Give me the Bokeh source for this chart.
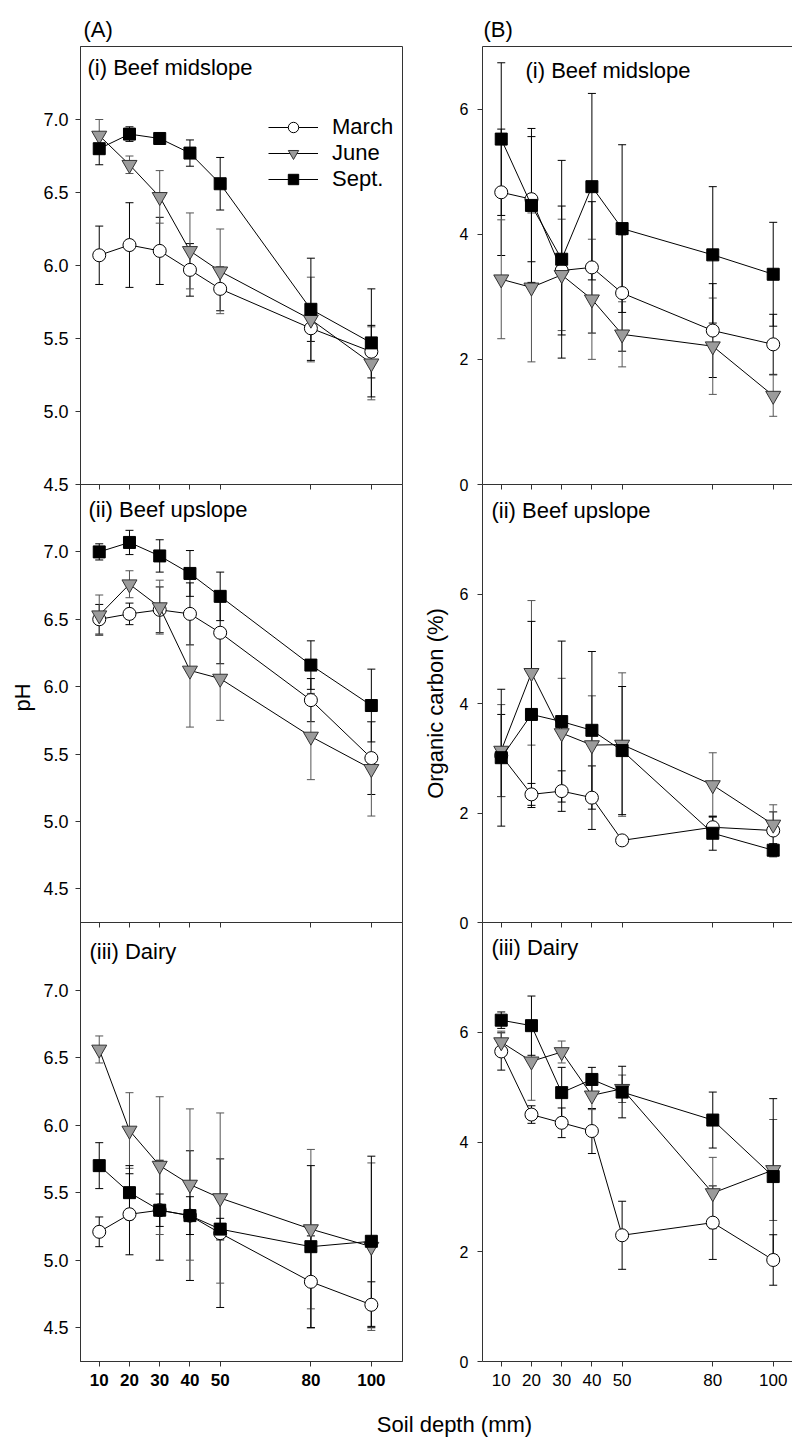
import math
from bokeh.plotting import figure
from bokeh.models import (ColumnDataSource, Whisker, TeeHead, FixedTicker, PrintfTickFormatter,
                          LinearAxis, Label, Legend, LegendItem, Range1d)
from bokeh.layouts import column, row
from bokeh.embed import file_html
from bokeh.resources import INLINE

FONT = "Liberation Sans"

# ---------------- data ----------------
depth = [10, 20, 30, 40, 50, 80, 100]
depth_ticks = [10, 20, 30, 40, 50, 80, 100]
months = ["March", "June", "Sept."]
site_titles = ["(i) Beef midslope", "(ii) Beef upslope", "(iii) Dairy"]
column_headers = ["(A)", "(B)"]
ph_ticks = [4.5, 5.0, 5.5, 6.0, 6.5, 7.0]
oc_ticks = [0, 2, 4, 6]
y_title_ph = "pH"
y_title_oc = "Organic carbon (%)"
x_title = "Soil depth (mm)"

# pH, beef midslope
ph_mid_march = [6.07, 6.14, 6.10, 5.97, 5.84, 5.57, 5.41]
ph_mid_march_err = [0.20, 0.29, 0.23, 0.18, 0.15, 0.09, 0.18]
ph_mid_june = [6.89, 6.69, 6.47, 6.10, 5.96, 5.63, 5.33]
ph_mid_june_err = [0.11, 0.06, 0.18, 0.26, 0.29, 0.29, 0.25]
ph_mid_sept = [6.80, 6.90, 6.87, 6.77, 6.56, 5.70, 5.47]
ph_mid_sept_err = [0.11, 0.05, 0.02, 0.09, 0.18, 0.35, 0.37]

# pH, beef upslope
ph_up_march = [6.50, 6.54, 6.57, 6.54, 6.40, 5.90, 5.47]
ph_up_march_err = [0.11, 0.08, 0.17, 0.23, 0.23, 0.16, 0.27]
ph_up_june = [6.53, 6.76, 6.59, 6.12, 6.06, 5.63, 5.39]
ph_up_june_err = [0.15, 0.10, 0.20, 0.42, 0.31, 0.32, 0.35]
ph_up_sept = [7.00, 7.07, 6.97, 6.84, 6.67, 6.16, 5.86]
ph_up_sept_err = [0.06, 0.09, 0.12, 0.17, 0.18, 0.18, 0.27]

# pH, dairy
ph_dairy_march = [5.21, 5.34, 5.37, 5.33, 5.20, 4.84, 4.67]
ph_dairy_march_err = [0.11, 0.30, 0.37, 0.48, 0.55, 0.34, 0.17]
ph_dairy_june = [6.56, 5.96, 5.70, 5.56, 5.46, 5.23, 5.10]
ph_dairy_june_err = [0.10, 0.28, 0.51, 0.56, 0.63, 0.59, 0.62]
ph_dairy_sept = [5.70, 5.50, 5.37, 5.33, 5.23, 5.10, 5.14]
ph_dairy_sept_err = [0.17, 0.20, 0.12, 0.14, 0.08, 0.60, 0.63]

# Organic carbon, beef midslope
oc_mid_march = [4.67, 4.56, 3.42, 3.47, 3.06, 2.46, 2.24]
oc_mid_march_err = [1.01, 1.00, 1.03, 1.05, 0.93, 0.75, 0.48]
oc_mid_june = [3.28, 3.15, 3.35, 2.96, 2.40, 2.21, 1.42]
oc_mid_june_err = [0.95, 1.19, 0.89, 0.96, 0.52, 0.77, 0.33]
oc_mid_sept = [5.52, 4.46, 3.60, 4.76, 4.09, 3.67, 3.36]
oc_mid_sept_err = [1.22, 1.23, 1.58, 1.49, 1.34, 1.09, 0.83]

# Organic carbon, beef upslope
oc_up_march = [3.05, 2.34, 2.40, 2.28, 1.50, 1.74, 1.68]
oc_up_march_err = [0.75, 0.20, 0.37, 0.58, 0.08, 0.20, 0.34]
oc_up_june = [3.14, 4.56, 3.46, 3.24, 3.25, 2.51, 1.79]
oc_up_june_err = [0.84, 1.32, 1.00, 0.90, 1.31, 0.59, 0.36]
oc_up_sept = [3.01, 3.80, 3.67, 3.51, 3.14, 1.63, 1.32]
oc_up_sept_err = [1.25, 1.70, 1.47, 1.44, 1.17, 0.31, 0.12]

# Organic carbon, dairy
oc_dairy_march = [5.65, 4.50, 4.35, 4.20, 2.30, 2.53, 1.85]
oc_dairy_march_err = [0.34, 0.16, 0.27, 0.41, 0.62, 0.67, 0.46]
oc_dairy_june = [5.82, 5.47, 5.64, 4.85, 4.97, 3.07, 3.49]
oc_dairy_june_err = [0.20, 0.71, 0.20, 0.26, 0.25, 0.65, 0.92]
oc_dairy_sept = [6.22, 6.12, 4.90, 5.14, 4.91, 4.40, 3.37]
oc_dairy_sept_err = [0.15, 0.54, 0.46, 0.22, 0.47, 0.51, 1.42]

# ---------------- styles ----------------
STYLES = {
    "March": dict(marker="circle", size=13, fill="white", line="black", ecolor="black"),
    "June": dict(marker="inverted_triangle", size=15, fill="#9b9b9b", line="#333333", ecolor="#555555"),
    "Sept.": dict(marker="square", size=12, fill="black", line="black", ecolor="black"),
}
AX = "#333333"
X_START = 3.8
LEFT_W = 365      # left-column figure width (frame 322 + borders)
RIGHT_W = 389
LABEL_W = 30      # narrow strip holding the pH title
TOP_B = 46
ROOT_TOP = 0
COL_H = (TOP_B + 438 + 12) + 438 + 463


def add_series(p, vals, errs, st):
    src = ColumnDataSource(dict(
        x=depth, y=vals,
        upper=[v + e for v, e in zip(vals, errs)],
        lower=[v - e for v, e in zip(vals, errs)]))
    w = Whisker(source=src, base="x", upper="upper", lower="lower",
                line_color=st["ecolor"], line_width=1,
                upper_head=TeeHead(size=8, line_color=st["ecolor"], line_width=1),
                lower_head=TeeHead(size=8, line_color=st["ecolor"], line_width=1))
    p.add_layout(w)
    ln = p.line("x", "y", source=src, line_color="black", line_width=1)
    sc = p.scatter("x", "y", source=src, marker=st["marker"], size=st["size"],
                   fill_color=st["fill"], line_color=st["line"], line_width=1)
    return ln, sc


def make_panel(col, rowi, y_start, y_end, yticks, yfmt, series, title, tdx, tdy,
               header=None, ylabel=None, legend=False):
    left = col == 0
    w = LEFT_W if left else RIGHT_W
    mbl = 42 if left else 79
    mbr = 1 if left else 0
    top_b = TOP_B if rowi == 0 else 0
    bot_b = 36 if rowi == 2 else 12
    frame_h = 438 if rowi < 2 else 439
    h = top_b + frame_h + bot_b
    x_end = 110.3 if left else X_START + 310 / 3.022
    kw = {}
    if rowi > 0:
        kw["margin"] = (-12, 0, 0, 0)
    p = figure(width=w, height=h, x_range=Range1d(X_START, x_end), y_range=Range1d(y_start, y_end),
               output_backend="svg", toolbar_location=None,
               min_border_left=mbl, min_border_right=mbr, min_border_top=top_b, min_border_bottom=bot_b,
               border_fill_color=None, background_fill_color=None,
               outline_line_color=AX if left else None, **kw)
    p.xgrid.visible = False
    p.ygrid.visible = False

    if header:
        p.title.text = header
        p.title.align = "left"
        p.title.offset = 3 if left else 1
        p.title.text_font = FONT
        p.title.text_font_size = "22px"
        p.title.text_font_style = "normal"
        p.title.text_color = "black"
        p.title.standoff = 10

    # y axis
    p.yaxis.ticker = FixedTicker(ticks=yticks)
    p.yaxis.formatter = PrintfTickFormatter(format=yfmt)
    p.yaxis.major_tick_out = 5
    p.yaxis.major_tick_in = 0
    p.yaxis.minor_tick_out = 0
    p.yaxis.minor_tick_in = 0
    p.yaxis.axis_line_color = AX
    p.yaxis.major_tick_line_color = AX
    p.yaxis.major_label_text_font = FONT
    p.yaxis.major_label_text_font_size = "18px" if left else "16px"
    p.yaxis.major_label_text_color = "black"
    p.yaxis.major_label_standoff = 7 if left else 9
    if ylabel:
        p.yaxis.axis_label = ylabel
        p.yaxis.axis_label_text_font = FONT
        p.yaxis.axis_label_text_font_size = "22px"
        p.yaxis.axis_label_text_font_style = "normal"
        p.yaxis.axis_label_text_color = "black"
        p.yaxis.axis_label_standoff = 9

    # bottom x axis
    if rowi == 2:
        p.xaxis.ticker = FixedTicker(ticks=depth_ticks)
        p.xaxis.major_tick_out = 5
        p.xaxis.major_tick_in = 0
        p.xaxis.minor_tick_out = 0
        p.xaxis.minor_tick_in = 0
        p.xaxis.axis_line_color = AX
        p.xaxis.major_tick_line_color = AX
        p.xaxis.major_label_text_font = FONT
        p.xaxis.major_label_text_font_size = "17px"
        p.xaxis.major_label_text_font_style = "bold" if left else "normal"
        p.xaxis.major_label_text_color = "black"
        p.xaxis.major_label_standoff = 7
    else:
        p.xaxis.visible = False

    # top axis: tick marks pointing into the panel (shared boundary)
    if rowi > 0 or not left:
        ax = LinearAxis(ticker=FixedTicker(ticks=depth_ticks),
                        major_tick_in=5 if rowi > 0 else 0, major_tick_out=0,
                        minor_tick_in=0, minor_tick_out=0,
                        major_tick_line_color=AX,
                        major_label_text_color=None, major_label_text_font_size="0px",
                        major_label_standoff=0,
                        axis_line_color=None if left else AX)
        p.add_layout(ax, "above")

    items = []
    for name, (vals, errs) in zip(months, series):
        ln, sc = add_series(p, vals, errs, STYLES[name])
        items.append(LegendItem(label=name, renderers=[ln, sc]))

    if legend:
        lg = Legend(items=items, location=(188, 292), orientation="vertical",
                    glyph_width=50, glyph_height=26, label_height=26, spacing=0,
                    label_standoff=14, padding=0, margin=0,
                    border_line_color=None, background_fill_alpha=0,
                    label_text_font=FONT, label_text_font_size="22px", label_text_color="black")
        p.add_layout(lg)

    p.add_layout(Label(x=X_START, y=y_end, x_offset=tdx, y_offset=-tdy, text=title,
                       text_font=FONT, text_font_size="22px", text_color="black",
                       text_baseline="alphabetic", text_align="left"))
    return p


A1 = make_panel(0, 0, 4.5, 7.5, ph_ticks, "%.1f",
                [(ph_mid_march, ph_mid_march_err), (ph_mid_june, ph_mid_june_err), (ph_mid_sept, ph_mid_sept_err)],
                site_titles[0], 7, 21, header=column_headers[0], legend=True)
A2 = make_panel(0, 1, 4.25, 7.5, ph_ticks, "%.1f",
                [(ph_up_march, ph_up_march_err), (ph_up_june, ph_up_june_err), (ph_up_sept, ph_up_sept_err)],
                site_titles[1], 8, 25)
A3 = make_panel(0, 2, 4.25, 7.5, ph_ticks, "%.1f",
                [(ph_dairy_march, ph_dairy_march_err), (ph_dairy_june, ph_dairy_june_err), (ph_dairy_sept, ph_dairy_sept_err)],
                site_titles[2], 9, 29)

B1 = make_panel(1, 0, 0, 7, oc_ticks, "%d",
                [(oc_mid_march, oc_mid_march_err), (oc_mid_june, oc_mid_june_err), (oc_mid_sept, oc_mid_sept_err)],
                site_titles[0], 43, 24, header=column_headers[1])
B2 = make_panel(1, 1, 0, 8, oc_ticks, "%d",
                [(oc_up_march, oc_up_march_err), (oc_up_june, oc_up_june_err), (oc_up_sept, oc_up_sept_err)],
                site_titles[1], 9, 26, ylabel=y_title_oc)
B3 = make_panel(1, 2, 0, 8, oc_ticks, "%d",
                [(oc_dairy_march, oc_dairy_march_err), (oc_dairy_june, oc_dairy_june_err), (oc_dairy_sept, oc_dairy_sept_err)],
                site_titles[2], 9, 25)

# strip holding the pH axis title
P = figure(width=LABEL_W, height=COL_H, x_range=Range1d(0, LABEL_W), y_range=Range1d(0, COL_H),
           x_axis_type=None, y_axis_type=None, output_backend="svg", toolbar_location=None,
           title=None, min_border=0, outline_line_color=None, border_fill_color=None,
           background_fill_color=None)
P.xgrid.visible = False
P.ygrid.visible = False
P.add_layout(Label(x=14, y=COL_H - (697 - ROOT_TOP), text=y_title_ph, angle=math.pi / 2,
                   text_font=FONT, text_font_size="22px", text_color="black",
                   text_align="center", text_baseline="middle"))

# shared x-axis title
T = figure(width=784, height=44, x_range=Range1d(0, 784), y_range=Range1d(0, 44),
           x_axis_type=None, y_axis_type=None, output_backend="svg", toolbar_location=None,
           title=None, min_border=0, outline_line_color=None, border_fill_color=None,
           background_fill_color=None)
T.xgrid.visible = False
T.ygrid.visible = False
T.add_layout(Label(x=446, y=17, text=x_title, text_font=FONT, text_font_size="22px",
                   text_color="black", text_align="center", text_baseline="middle"))

layout = column(row(P, column(A1, A2, A3), column(B1, B2, B3)), T, margin=(ROOT_TOP, 0, 0, 8))

open("out.html", "w").write(file_html(layout, INLINE))
